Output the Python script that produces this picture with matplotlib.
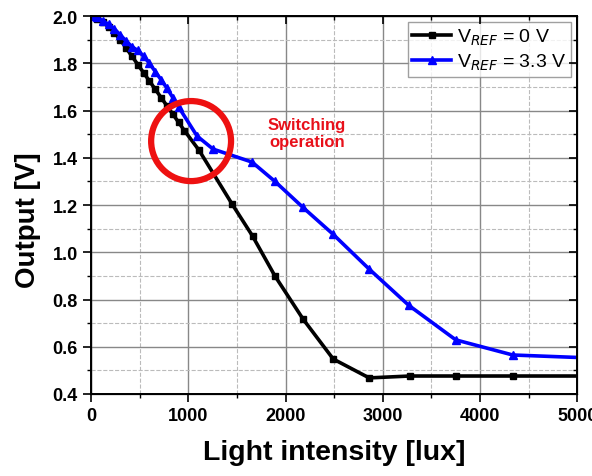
import numpy as np
import matplotlib.pyplot as plt
from matplotlib.patches import Ellipse
from matplotlib.ticker import MultipleLocator

plt.rcParams['font.family'] = ['Liberation Sans', 'DejaVu Sans']
plt.rcParams['mathtext.fontset'] = 'custom'
plt.rcParams['mathtext.rm'] = 'Liberation Sans'

# VREF = 0 V
x_0v = [0, 60, 120, 180, 240, 300, 360, 420, 480, 540, 600, 660, 720, 780, 840, 900, 960,
        1110, 1450, 1660, 1890, 2180, 2490, 2860, 3280, 3750, 4340, 5100]
y_0v = [2.0, 1.99, 1.975, 1.955, 1.93, 1.90, 1.865, 1.83, 1.795, 1.76, 1.725, 1.69, 1.655,
        1.62, 1.585, 1.55, 1.515, 1.432, 1.204, 1.069, 0.90, 0.717, 0.548, 0.468, 0.476,
        0.476, 0.476, 0.476]

# VREF = 3.3 V
x_33v = [0, 60, 120, 180, 240, 300, 360, 420, 480, 540, 600, 660, 720, 780, 840, 900,
         1090, 1254, 1655, 1891, 2179, 2487, 2857, 3268, 3751, 4337, 5100]
y_33v = [2.0, 1.995, 1.98, 1.965, 1.945, 1.92, 1.895, 1.87, 1.855, 1.83, 1.80, 1.765, 1.73,
         1.695, 1.655, 1.615, 1.492, 1.437, 1.382, 1.30, 1.19, 1.077, 0.93, 0.775, 0.629,
         0.565, 0.553]

fig = plt.figure(figsize=(5.92, 4.77), dpi=100)
ax = fig.add_axes([0.154, 0.172, 0.821, 0.792])

ax.plot(x_0v, y_0v, color='black', lw=2.6, marker='s', ms=5, label='V$_{REF}$ = 0 V')
ax.plot(x_33v, y_33v, color='#0000ff', lw=2.6, marker='^', ms=6, label='V$_{REF}$ = 3.3 V')

ax.set_xlim(0, 5000)
ax.set_ylim(0.4, 2.0)
ax.xaxis.set_major_locator(MultipleLocator(1000))
ax.xaxis.set_minor_locator(MultipleLocator(500))
ax.yaxis.set_major_locator(MultipleLocator(0.2))
ax.yaxis.set_minor_locator(MultipleLocator(0.1))
ax.yaxis.set_major_formatter(plt.FormatStrFormatter('%.1f'))
ax.grid(True, which='major', color='#888888', lw=1.0)
ax.grid(True, which='minor', color='#bbbbbb', lw=0.8, ls='--')
ax.set_axisbelow(True)

ax.tick_params(which='major', direction='out', length=6, width=1.2, labelsize=13)
ax.tick_params(which='minor', direction='out', length=3, width=1.0)
for lab in ax.get_xticklabels() + ax.get_yticklabels():
    lab.set_fontweight('bold')
for s in ax.spines.values():
    s.set_linewidth(1.4)

# mirrored ticks inside on top and right
for tw in (ax.twinx(), ax.twiny()):
    tw.set_xlim(ax.get_xlim())
    tw.set_ylim(ax.get_ylim())
    tw.xaxis.set_major_locator(MultipleLocator(1000))
    tw.xaxis.set_minor_locator(MultipleLocator(500))
    tw.yaxis.set_major_locator(MultipleLocator(0.2))
    tw.yaxis.set_minor_locator(MultipleLocator(0.1))
    tw.tick_params(which='both', direction='in', labelleft=False, labelright=False,
                   labeltop=False, labelbottom=False)
    tw.tick_params(which='major', length=6, width=1.2)
    tw.tick_params(which='minor', length=3, width=1.0)

ax.set_xlabel('Light intensity [lux]', fontsize=20.5, fontweight='bold', labelpad=11)
ax.set_ylabel('Output [V]', fontsize=20, fontweight='bold')
ax.yaxis.set_label_coords(-0.104, 0.463)

ax.add_patch(Ellipse((1028, 1.471), 822, 0.339, fill=False, ec='#ee1111', lw=4.5, zorder=5))
ax.text(2220, 1.505, 'Switching\noperation', color='#e8101a', fontsize=12,
        fontweight='bold', ha='center', va='center', linespacing=1.15)

leg = ax.legend(loc='upper right', fontsize=14, frameon=True, fancybox=False,
                borderaxespad=0.3, handlelength=2.0, handletextpad=0.3,
                borderpad=0.25, labelspacing=0.25)
leg.get_frame().set_edgecolor('#888888')
leg.get_frame().set_linewidth(1.0)
leg.set_zorder(10)

fig.savefig('out.png', dpi=100)
